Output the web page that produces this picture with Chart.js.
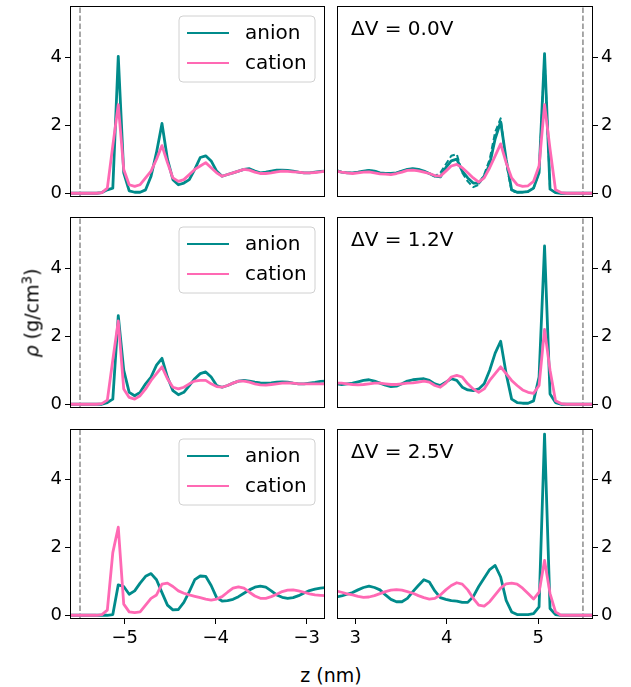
<!DOCTYPE html>
<html>
<head>
<meta charset="utf-8">
<script src="https://cdn.jsdelivr.net/npm/chart.js@4.4.1/dist/chart.umd.min.js"></script>
<style>
  body { margin: 0; background: #fff; }
  #fig { position: relative; width: 631px; height: 687px; font-family: 'DejaVu Sans', sans-serif; }
  #fig canvas { position: absolute; }
  .axlabel { position: absolute; font-size: 19px; color: #000; white-space: nowrap; line-height: 1; }
  #ylab { left: 32px; top: 313px; transform: translate(-50%, -50%) rotate(-90deg); }
  #ylab sup { font-size: 70%; vertical-align: 0.55em; line-height: 0; }
  #xlab { left: 331px; top: 675px; transform: translate(-50%, -50%); }
</style>
</head>
<body>
<div id="fig">
  <canvas id="p0L"></canvas>
  <canvas id="p0R"></canvas>
  <canvas id="p1L"></canvas>
  <canvas id="p1R"></canvas>
  <canvas id="p2L"></canvas>
  <canvas id="p2R"></canvas>
  <div class="axlabel" id="ylab"><i>ρ</i> (g/cm<sup>3</sup>)</div>
  <div class="axlabel" id="xlab">z (nm)</div>
</div>
<script>
// z grid (nm) for both sides of the cell
const zLeft = [-5.61, -5.55, -5.49, -5.43, -5.37, -5.31, -5.25, -5.19, -5.13, -5.07, -5.01, -4.95,
               -4.89, -4.83, -4.77, -4.71, -4.65, -4.59, -4.53, -4.47, -4.41, -4.35, -4.29, -4.23,
               -4.17, -4.11, -4.05, -3.99, -3.93, -3.87, -3.81, -3.75, -3.69, -3.63, -3.57, -3.51,
               -3.45, -3.39, -3.33, -3.27, -3.21, -3.15, -3.09, -3.03, -2.97, -2.91, -2.85, -2.79];
const zRight = [2.79, 2.85, 2.91, 2.97, 3.03, 3.09, 3.15, 3.21, 3.27, 3.33, 3.39, 3.45,
                3.51, 3.57, 3.63, 3.69, 3.75, 3.81, 3.87, 3.93, 3.99, 4.05, 4.11, 4.17,
                4.23, 4.29, 4.35, 4.41, 4.47, 4.53, 4.59, 4.65, 4.71, 4.77, 4.83, 4.89,
                4.95, 5.01, 5.07, 5.13, 5.19, 5.25, 5.31, 5.37, 5.43, 5.49, 5.55, 5.61];

// dV = 0.0 V
const anion00L = [0, 0, 0, 0, 0, 0, 0.02, 0.1, 0.15, 4.02, 0.6, 0.07,
                  0.03, 0.03, 0.1, 0.5, 1.2, 2.05, 1.0, 0.4, 0.25, 0.3, 0.4, 0.7,
                  1.05, 1.1, 0.95, 0.65, 0.5, 0.55, 0.6, 0.65, 0.7, 0.72, 0.65, 0.6,
                  0.62, 0.65, 0.68, 0.68, 0.67, 0.65, 0.62, 0.6, 0.6, 0.62, 0.64, 0.65];
const cation00L = [0, 0, 0, 0, 0, 0, 0.02, 0.15, 1.4, 2.6, 0.7, 0.25,
                   0.2, 0.25, 0.45, 0.65, 1.0, 1.4, 0.9, 0.45, 0.35, 0.4, 0.55, 0.7,
                   0.8, 0.9, 0.75, 0.6, 0.5, 0.55, 0.6, 0.65, 0.7, 0.68, 0.62, 0.58,
                   0.58, 0.6, 0.63, 0.65, 0.64, 0.63, 0.62, 0.6, 0.6, 0.61, 0.63, 0.65];
const anion00R = [0.67, 0.62, 0.6, 0.6, 0.62, 0.65, 0.67, 0.65, 0.6, 0.58, 0.58, 0.6,
                  0.65, 0.7, 0.72, 0.7, 0.65, 0.58, 0.5, 0.48, 0.75, 0.95, 1.0, 0.65,
                  0.45, 0.3, 0.3, 0.5, 0.85, 1.6, 2.1, 1.0, 0.1, 0.03, 0.03, 0.05,
                  0.15, 0.6, 4.1, 0.12, 0.02, 0, 0, 0, 0, 0, 0, 0];
const anion00Rb = [0.67, 0.62, 0.6, 0.6, 0.62, 0.65, 0.67, 0.65, 0.6, 0.58, 0.58, 0.6,
                   0.65, 0.7, 0.72, 0.7, 0.65, 0.58, 0.5, 0.6, 0.85, 1.1, 1.15, 0.6,
                   0.35, 0.18, 0.25, 0.55, 1.0, 1.8, 2.2, 0.9, 0.05, 0.03, 0.03, 0.05,
                   0.15, 0.6, 4.0, 0.12, 0.02, 0, 0, 0, 0, 0, 0, 0];
const cation00R = [0.65, 0.62, 0.6, 0.58, 0.6, 0.62, 0.63, 0.6, 0.57, 0.56, 0.55, 0.58,
                   0.62, 0.67, 0.68, 0.66, 0.62, 0.58, 0.52, 0.5, 0.65, 0.8, 0.85, 0.75,
                   0.6, 0.45, 0.33, 0.45, 0.75, 1.1, 1.45, 0.9, 0.45, 0.25, 0.2, 0.22,
                   0.35, 0.8, 2.6, 1.3, 0.1, 0.02, 0, 0, 0, 0, 0, 0];

// dV = 1.2 V
const anion12L = [0, 0, 0, 0, 0, 0, 0, 0.05, 0.15, 2.6, 1.0, 0.35,
                  0.25, 0.35, 0.6, 0.8, 1.15, 1.35, 0.8, 0.4, 0.28, 0.35, 0.55, 0.75,
                  0.9, 0.95, 0.8, 0.55, 0.5, 0.55, 0.62, 0.68, 0.7, 0.68, 0.65, 0.63,
                  0.62, 0.63, 0.65, 0.66, 0.65, 0.62, 0.6, 0.6, 0.62, 0.64, 0.67, 0.68];
const cation12L = [0, 0, 0, 0, 0, 0, 0.02, 0.12, 1.3, 2.45, 0.45, 0.2,
                   0.15, 0.25, 0.45, 0.7, 0.9, 1.1, 0.75, 0.5, 0.45, 0.5, 0.6, 0.68,
                   0.7, 0.7, 0.6, 0.52, 0.5, 0.55, 0.62, 0.68, 0.68, 0.65, 0.6, 0.57,
                   0.56, 0.58, 0.6, 0.62, 0.63, 0.62, 0.6, 0.6, 0.6, 0.6, 0.6, 0.6];
const anion12R = [0.6, 0.58, 0.6, 0.62, 0.66, 0.7, 0.72, 0.68, 0.62, 0.56, 0.52, 0.53,
                  0.6, 0.68, 0.72, 0.74, 0.75, 0.7, 0.6, 0.55, 0.65, 0.75, 0.7, 0.5,
                  0.42, 0.4, 0.45, 0.6, 1.0, 1.5, 1.85, 0.9, 0.15, 0.05, 0.03, 0.03,
                  0.1, 0.8, 4.65, 0.3, 0.05, 0, 0, 0, 0, 0, 0, 0];
const cation12R = [0.62, 0.62, 0.6, 0.58, 0.57, 0.58, 0.6, 0.62, 0.62, 0.6, 0.58, 0.58,
                   0.6, 0.62, 0.63, 0.65, 0.68, 0.65, 0.55, 0.5, 0.62, 0.8, 0.85, 0.8,
                   0.6, 0.45, 0.35, 0.45, 0.7, 0.9, 1.1, 0.9, 0.7, 0.55, 0.42, 0.35,
                   0.32, 0.55, 2.2, 1.0, 0.1, 0.02, 0, 0, 0, 0, 0, 0];

// dV = 2.5 V
const anion25L = [0, 0, 0, 0, 0, 0, 0, 0, 0.02, 0.9, 0.85, 0.62,
                  0.72, 0.95, 1.15, 1.23, 1.05, 0.67, 0.3, 0.16, 0.17, 0.38, 0.7, 1.05,
                  1.16, 1.15, 0.88, 0.52, 0.42, 0.43, 0.47, 0.55, 0.65, 0.75, 0.83, 0.86,
                  0.83, 0.72, 0.6, 0.53, 0.5, 0.52, 0.58, 0.66, 0.73, 0.77, 0.8, 0.82];
const cation25L = [0, 0, 0, 0, 0, 0, 0.02, 0.15, 1.85, 2.6, 0.33, 0.1,
                   0.08, 0.1, 0.3, 0.5, 0.6, 0.92, 0.95, 0.85, 0.72, 0.65, 0.6, 0.56,
                   0.52, 0.48, 0.45, 0.48, 0.55, 0.68, 0.8, 0.84, 0.8, 0.68, 0.57, 0.5,
                   0.5, 0.55, 0.62, 0.7, 0.74, 0.75, 0.72, 0.68, 0.63, 0.6, 0.59, 0.58];
const anion25R = [0.54, 0.57, 0.62, 0.67, 0.75, 0.82, 0.86, 0.82, 0.75, 0.6, 0.47, 0.4,
                  0.4, 0.5, 0.7, 0.88, 1.05, 0.98, 0.72, 0.52, 0.47, 0.43, 0.42, 0.38,
                  0.38, 0.55, 0.85, 1.1, 1.35, 1.47, 1.13, 0.44, 0.1, 0.02, 0.02, 0.02,
                  0.05, 0.25, 5.35, 0.2, 0.02, 0, 0, 0, 0, 0, 0, 0];
const cation25R = [0.72, 0.68, 0.63, 0.6, 0.56, 0.53, 0.54, 0.58, 0.64, 0.7, 0.74, 0.76,
                   0.74, 0.7, 0.65, 0.58, 0.52, 0.48, 0.5, 0.6, 0.75, 0.88, 0.96, 0.92,
                   0.75, 0.5, 0.3, 0.27, 0.4, 0.6, 0.8, 0.93, 0.95, 0.92, 0.8, 0.64,
                   0.48, 0.68, 1.62, 0.64, 0.1, 0, 0, 0, 0, 0, 0, 0];

const voltages = ['0.0', '1.2', '2.5'];
const seriesNames = ['anion', 'cation'];
const xTicksLeft = [-5, -4, -3];
const xTicksRight = [3, 4, 5];
const yTicks = [0, 2, 4];
const electrodeZ = 5.49;

const anionColor = '#008b8b';
const cationColor = '#ff69b4';
const yMin = -0.11, yMax = 5.5;

Chart.defaults.font.family = "'DejaVu Sans', sans-serif";
Chart.defaults.font.size = 18;
Chart.defaults.color = '#000';

function toPoints(z, vals) {
  return z.map((x, i) => ({ x: x, y: vals[i] }));
}

// frame, legend box and the dV note
const panelDeco = {
  id: 'panelDeco',
  afterDatasetsDraw(chart, args, opts) {
    const a = chart.chartArea;
    const ctx = chart.ctx;
    ctx.save();
    ctx.strokeStyle = '#000';
    ctx.lineWidth = 1;
    ctx.strokeRect(a.left + 0.5, a.top + 0.5, a.right - a.left - 1, a.bottom - a.top - 1);

    if (opts.legend) {
      const w = 136, h = 66, r = 4;
      const bx = a.right - 10 - w, by = a.top + 10;
      ctx.beginPath();
      ctx.moveTo(bx + r, by);
      ctx.arcTo(bx + w, by, bx + w, by + h, r);
      ctx.arcTo(bx + w, by + h, bx, by + h, r);
      ctx.arcTo(bx, by + h, bx, by, r);
      ctx.arcTo(bx, by, bx + w, by, r);
      ctx.closePath();
      ctx.fillStyle = 'rgba(255,255,255,0.8)';
      ctx.fill();
      ctx.strokeStyle = '#d0d0d0';
      ctx.stroke();
      const colors = [anionColor, cationColor];
      ctx.font = "20px 'DejaVu Sans'";
      ctx.textBaseline = 'middle';
      ctx.textAlign = 'left';
      seriesNames.forEach((name, i) => {
        const ly = by + 17 + i * 30;
        ctx.strokeStyle = colors[i];
        ctx.lineWidth = 2;
        ctx.beginPath();
        ctx.moveTo(bx + 8, ly);
        ctx.lineTo(bx + 50, ly);
        ctx.stroke();
        ctx.fillStyle = '#000';
        ctx.fillText(name, bx + 66, ly + 1);
      });
    }
    if (opts.note) {
      ctx.font = "20px 'DejaVu Sans'";
      ctx.fillStyle = '#000';
      ctx.textBaseline = 'alphabetic';
      ctx.textAlign = 'left';
      ctx.fillText(opts.note, a.left + 14, a.top + 29);
    }
    ctx.restore();
  }
};

const rowTop = [6, 217, 429];
const rowHeight = [191, 191, 190];

const panels = [
  { id: 'p0L', row: 0, side: 'left', anion: anion00L, cation: cation00L },
  { id: 'p0R', row: 0, side: 'right', anion: anion00R, cation: cation00R, extra: anion00Rb },
  { id: 'p1L', row: 1, side: 'left', anion: anion12L, cation: cation12L },
  { id: 'p1R', row: 1, side: 'right', anion: anion12R, cation: cation12R },
  { id: 'p2L', row: 2, side: 'left', anion: anion25L, cation: cation25L },
  { id: 'p2R', row: 2, side: 'right', anion: anion25R, cation: cation25R }
];

panels.forEach(p => {
  const isLeft = p.side === 'left';
  const isBottom = p.row === 2;
  const z = isLeft ? zLeft : zRight;
  const bottomSpace = isBottom ? 40 : 10;
  const canvas = document.getElementById(p.id);
  const cw = isLeft ? 331 : 300;
  const ch = 6 + rowHeight[p.row] + bottomSpace;
  canvas.width = cw;
  canvas.height = ch;
  canvas.style.left = (isLeft ? 0 : 331) + 'px';
  canvas.style.top = (rowTop[p.row] - 6) + 'px';
  canvas.style.width = cw + 'px';
  canvas.style.height = ch + 'px';

  const ez = isLeft ? -electrodeZ : electrodeZ;
  const datasets = [
    { label: 'cation', data: toPoints(z, p.cation), borderColor: cationColor, borderWidth: 2.8, order: 0 },
    { label: 'anion', data: toPoints(z, p.anion), borderColor: anionColor, borderWidth: 2.8, order: 1 },
    { label: 'electrode', data: [{ x: ez, y: yMin }, { x: ez, y: yMax }],
      borderColor: '#8c8c8c', borderWidth: 1.5, borderDash: [5.5, 2.5], order: 3 }
  ];
  if (p.extra) {
    datasets.push({ label: 'anion run', data: toPoints(z, p.extra), borderColor: anionColor,
      borderWidth: 2, borderDash: [6, 3], order: 2 });
  }
  datasets.forEach(d => {
    d.pointRadius = 0;
    d.tension = 0;
    d.fill = false;
    d.borderJoinStyle = 'round';
  });

  new Chart(canvas, {
    type: 'line',
    data: { datasets: datasets },
    options: {
      responsive: false,
      animation: false,
      events: [],
      layout: { padding: { top: 6, bottom: 0, left: isLeft ? 0 : 6, right: isLeft ? 6 : 0 } },
      plugins: {
        legend: { display: false },
        tooltip: { enabled: false },
        panelDeco: {
          legend: isLeft,
          note: isLeft ? null : '\u0394V = ' + voltages[p.row] + 'V'
        }
      },
      scales: {
        x: {
          type: 'linear',
          min: isLeft ? -5.6 : 2.8,
          max: isLeft ? -2.8 : 5.6,
          afterBuildTicks: s => { s.ticks = (isLeft ? xTicksLeft : xTicksRight).map(v => ({ value: v })); },
          afterFit: s => { s.height = bottomSpace; s.paddingLeft = 0; s.paddingRight = 0; },
          border: { display: false },
          grid: { drawOnChartArea: false, drawTicks: isBottom, tickLength: 5, color: '#000' },
          ticks: {
            display: isBottom, padding: 4, maxRotation: 0, autoSkip: false,
            callback: v => String(v).replace('-', '\u2212')
          }
        },
        y: {
          position: p.side,
          min: yMin,
          max: yMax,
          afterBuildTicks: s => { s.ticks = yTicks.map(v => ({ value: v })); },
          afterFit: s => { s.width = isLeft ? 70 : 38; s.paddingTop = 0; s.paddingBottom = 0; },
          border: { display: false },
          grid: { drawOnChartArea: false, tickLength: 5, color: '#000' },
          ticks: { padding: 3, autoSkip: false }
        }
      }
    },
    plugins: [panelDeco]
  });
});
</script>
</body>
</html>
